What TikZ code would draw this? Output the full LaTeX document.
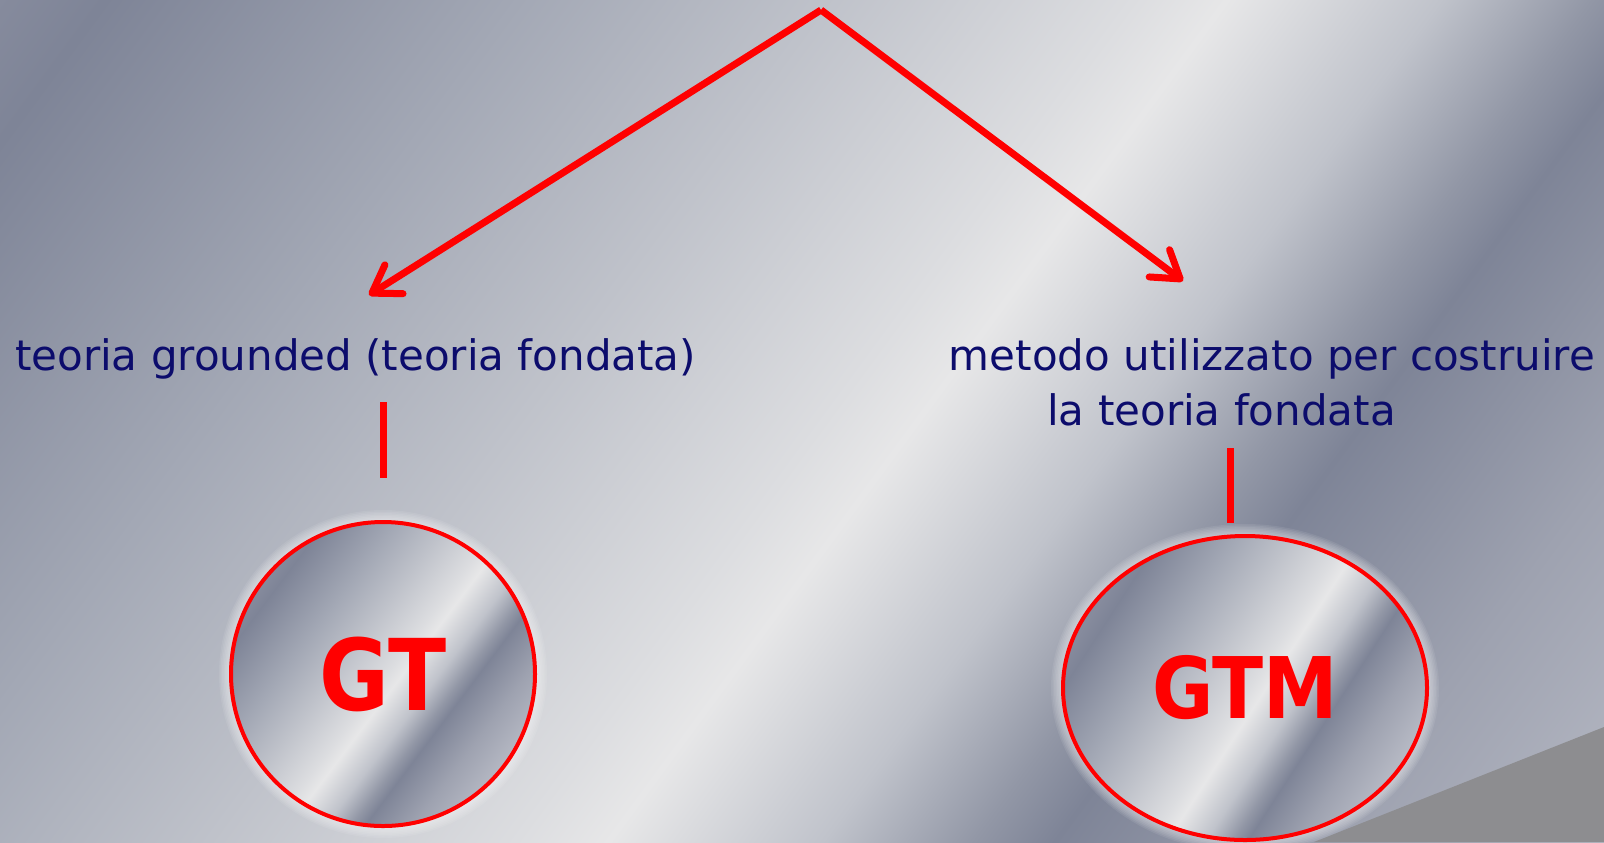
\documentclass[tikz,border=0pt]{standalone}
\usepackage{graphicx}
\usepackage{fontspec}
\setmainfont{DejaVu Sans}
\usetikzlibrary{arrows.meta,shapes.geometric}
\definecolor{m0}{HTML}{868B9D}
\definecolor{m1}{HTML}{7E8497}
\definecolor{m2}{HTML}{A3A8B5}
\definecolor{m3}{HTML}{BFC2CA}
\definecolor{m4}{HTML}{DCDDE0}
\definecolor{m5}{HTML}{E7E7E8}
\definecolor{m6}{HTML}{C0C3CB}
\definecolor{m7}{HTML}{9297A6}
\definecolor{m8}{HTML}{7E8497}
\definecolor{m9}{HTML}{9EA2B0}
\definecolor{m10}{HTML}{B5B8C3}
\definecolor{navy}{HTML}{0C0C6C}
\definecolor{wedge}{HTML}{8D8D90}
\pgfdeclarehorizontalshading{metal}{100bp}{color(0bp)=(m0); color(25bp)=(m0); color(27.4bp)=(m1); color(36.7bp)=(m2); color(43.6bp)=(m3); color(50.5bp)=(m4); color(52.6bp)=(m5); color(57.4bp)=(m6); color(60.8bp)=(m7); color(62.6bp)=(m8); color(68.9bp)=(m9); color(75bp)=(m10); color(100bp)=(m10)}
\begin{document}
\begin{tikzpicture}[x=0.5pt,y=-0.5pt,
  conn/.style={draw=red, line width=3.5pt},
  arr/.style={conn, -{Straight Barb[length=13pt,width=17pt,round]}},
  lbl/.style={text=navy, font=\fontsize{21}{25}\selectfont, inner sep=0pt, anchor=base},
  disc/.style={draw=red, line width=2pt, shade, shading=metal, inner sep=0pt, text=red},
  glow/.style={fill=white, opacity=0.08}
]
\useasboundingbox (0,0) rectangle (1604,842);
\begin{scope}
\clip (0,0) rectangle (1604,842);
\shade[shading=metal, shading angle=-36.3] (-98,-479) rectangle (1702,1321);
\fill[wedge] (1314,842) -- (1604,727) -- (1604,842) -- cycle;
\end{scope}
% glows
\foreach \k in {1,...,8} {
  \fill[glow] (383,674) circle [radius=76pt+\k*0.75pt];
  \fill[glow] (1245,688) ellipse [x radius=91pt+\k*0.75pt, y radius=76pt+\k*0.75pt];
}
% discs
\node[disc, circle, minimum size=152pt, shading angle=-37, font=\fontsize{49.5}{50}\selectfont\bfseries] (GT) at (383,674) {\scalebox{0.86}[1]{GT}};
\node[disc, ellipse, minimum width=182pt, minimum height=152pt, shading angle=-33, font=\fontsize{42.5}{43}\selectfont\bfseries] (GTM) at (1245,688) {\scalebox{0.88}[1]{GTM}};
% labels
\node[lbl] (lt) at (355.5,370) {teoria grounded (teoria fondata)};
\node[lbl] (rt1) at (1272,370) {metodo utilizzato per costruire};
\node[lbl] (rt2) at (1221.5,425) {la teoria fondata};
% connectors
\coordinate (top) at (821,10);
\coordinate (tipL) at (369,295);
\coordinate (tipR) at (1183,281);
\draw[arr] (top) -- (tipL);
\draw[arr] (top) -- (tipR);
\coordinate (la) at (383,402);
\coordinate (lb) at (383,478);
\coordinate (ra) at (1230,448);
\coordinate (rb) at (1230,523);
\draw[conn] (la) -- (lb);
\draw[conn] (ra) -- (rb);
\end{tikzpicture}
\end{document}
